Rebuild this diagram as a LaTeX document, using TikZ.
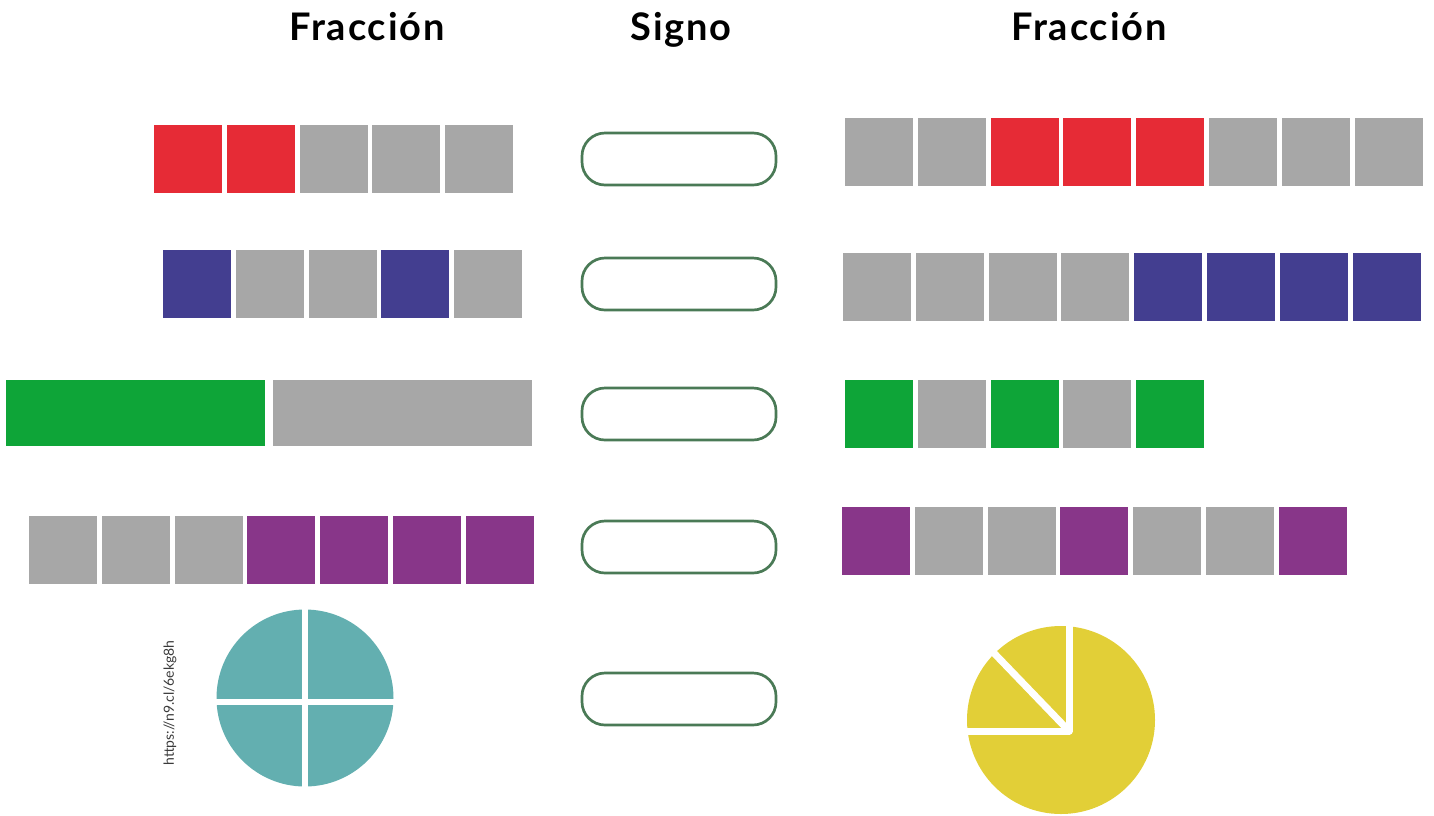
\documentclass[tikz,border=0pt]{standalone}
\usepackage{fontspec}
\setsansfont{Lato}
\newfontfamily\titulo[LetterSpace=5]{Lato}
\usepackage{tikz}
\usetikzlibrary{positioning}
\definecolor{frojo}   {HTML}{E62B36}
\definecolor{fgris}   {HTML}{A7A7A7}
\definecolor{fazul}   {HTML}{433E90}
\definecolor{fverde}  {HTML}{0EA538}
\definecolor{fmorado} {HTML}{883689}
\definecolor{fteal}   {HTML}{63AFB0}
\definecolor{famar}   {HTML}{E2CF37}
\definecolor{signo}   {HTML}{4A7A56}
\definecolor{urltxt}  {HTML}{3A3A3A}
\tikzset{
  % --- nodes
  sq/.style    = {draw=none, minimum size=68pt, inner sep=0pt, outer sep=0pt},
  barra/.style = {draw=none, minimum width=259pt, minimum height=66pt, inner sep=0pt},
  hueco/.style = {draw=signo, line width=2.7pt, fill=white, rounded corners=23pt,
                  minimum width=194pt, minimum height=52pt, inner sep=0pt},
  ttl/.style   = {font=\fontsize{38}{40}\selectfont\titulo\bfseries, text=black,
                  anchor=base},
  url/.style   = {font=\fontsize{14}{15}\selectfont\sffamily, text=urltxt},
  % --- cuts
  corte/.style = {draw=white, line width=7pt},
}

\begin{document}
\begin{tikzpicture}[x=1pt,y=-1pt]
  \useasboundingbox (0,0) rectangle (1434,815);

  \node[ttl] (t1) at (367,40) {Fracción};
  \node[ttl] (t2) at (681,40) {Signo};
  \node[ttl] (t3) at (1089,40) {Fracción};

  % left fractions
  \foreach \c [count=\i] in {frojo,frojo,fgris,fgris,fgris}
    \node[sq, fill=\c] (a\i) at ({188+(\i-1)*72.8},159) {};
  \foreach \c [count=\i] in {fazul,fgris,fgris,fazul,fgris}
    \node[sq, fill=\c] (b\i) at ({197+(\i-1)*72.8},284) {};
  \node[barra, fill=fverde] (c1) at (135.5,413) {};
  \node[barra, fill=fgris]  (c2) at (402.5,413) {};
  \foreach \c [count=\i] in {fgris,fgris,fgris,fmorado,fmorado,fmorado,fmorado}
    \node[sq, fill=\c] (d\i) at ({63+(\i-1)*72.8},550) {};
  \node[circle, fill=fteal, minimum size=177pt, inner sep=0pt] (pie1) at (305,698) {};
  \draw[corte, line width=6pt] ([yshift=2pt]pie1.north) -- ([yshift=-2pt]pie1.south);
  \draw[corte, line width=6pt] ([xshift=-2pt,yshift=-4pt]pie1.west) -- ([xshift=2pt,yshift=-4pt]pie1.east);
  \node[url, rotate=90] (link) at (170,703) {https://n9.cl/6ekg8h};

  % signs
  \foreach \y [count=\i] in {159,284,414,547,699}
    \node[hueco] (s\i) at (679,\y) {};

  % right fractions
  \foreach \c [count=\i] in {fgris,fgris,frojo,frojo,frojo,fgris,fgris,fgris}
    \node[sq, fill=\c] (e\i) at ({879+(\i-1)*72.8},152) {};
  \foreach \c [count=\i] in {fgris,fgris,fgris,fgris,fazul,fazul,fazul,fazul}
    \node[sq, fill=\c] (f\i) at ({877+(\i-1)*72.8},287) {};
  \foreach \c [count=\i] in {fverde,fgris,fverde,fgris,fverde}
    \node[sq, fill=\c] (g\i) at ({879+(\i-1)*72.8},414) {};
  \foreach \c [count=\i] in {fmorado,fgris,fgris,fmorado,fgris,fgris,fmorado}
    \node[sq, fill=\c] (h\i) at ({876+(\i-1)*72.8},541) {};
  \node[circle, fill=famar, minimum size=188pt, inner sep=0pt] (pie2) at (1061,720) {};
  \coordinate (eje) at (1069,731);
  \draw[corte, line join=round] ([yshift=4pt]pie2.north -| eje) -- (eje) -- ([xshift=-4pt]pie2.west |- eje);
  \draw[corte] (eje) -- ([shift={(-3pt,3pt)}]pie2.north west);
\end{tikzpicture}
\end{document}
